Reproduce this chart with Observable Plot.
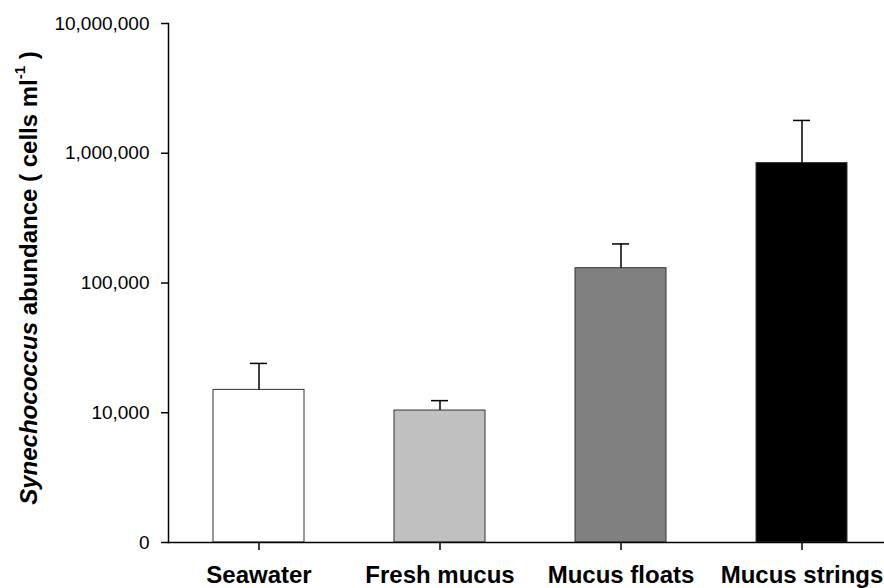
<!DOCTYPE html>
<html>
<head>
<meta charset="utf-8">
<script src="https://cdn.jsdelivr.net/npm/d3@7"></script>
<script src="https://cdn.jsdelivr.net/npm/@observablehq/plot@0.6"></script>
<style>
  html, body { margin: 0; padding: 0; background: #ffffff; }
  svg { display: block; font-family: "Liberation Sans", Arial, sans-serif; }
</style>
</head>
<body>
<div id="chart"></div>
<script>
const categories = ["Seawater", "Fresh mucus", "Mucus floats", "Mucus strings"];
const means = [15000, 10400, 130000, 840000];
const upperErrors = [24000, 12400, 200000, 1790000];
const baseline = 1000;
const yTicks = [1000, 10000, 100000, 1000000, 10000000];
const yTickLabels = ["0", "10,000", "100,000", "1,000,000", "10,000,000"];
const barFills = ["#ffffff", "#c0c0c0", "#808080", "#000000"];

const data = categories.map((c, i) => ({cat: c, base: baseline, mean: means[i], upper: upperErrors[i]}));

const W = 884, H = 588;
const svg = Plot.plot({
  width: W,
  height: H,
  marginLeft: 168,
  marginRight: 0,
  marginTop: 23,
  marginBottom: 46,
  style: {background: "#ffffff", fontFamily: "'Liberation Sans', Arial, sans-serif", color: "#000"},
  x: {domain: categories, range: [168, 892], paddingInner: 0.5, paddingOuter: 0.25, axis: null},
  y: {type: "log", domain: [yTicks[0], yTicks[yTicks.length - 1]], axis: null},
  color: {domain: categories, range: barFills},
  marks: [
    Plot.barY(data, {x: "cat", y1: "base", y2: "mean", fill: "cat", stroke: "#333333", strokeWidth: 1}),
    Plot.ruleX(data, {x: "cat", y1: "mean", y2: "upper", stroke: "#000", strokeWidth: 1.5}),
    Plot.tickY(data, {x: "cat", y: "upper", stroke: "#000", strokeWidth: 1.5, inset: 37}),
    Plot.frame({anchor: "left", stroke: "#000", strokeWidth: 1.5}),
    Plot.ruleY([baseline], {stroke: "#000", strokeWidth: 1.5}),
    Plot.axisY({
      ticks: yTicks,
      tickFormat: () => "",
      tickSize: 7,
      label: null,
      stroke: "#000",
      strokeWidth: 1.5
    }),
    Plot.text(yTicks, {
      y: d => d,
      text: d => yTickLabels[yTicks.indexOf(d)],
      frameAnchor: "left",
      textAnchor: "end",
      dx: -19,
      fontSize: 19,
      fill: "#000"
    }),
    Plot.axisX({
      tickSize: 8,
      tickPadding: 15,
      fontSize: 24,
      fontWeight: "bold",
      label: null,
      stroke: "#000",
      strokeWidth: 1.5,
      fill: "#000"
    })
  ]
});

// Y axis title with italic genus name and superscript
const sel = d3.select(svg);
const t = sel.append("text")
  .attr("transform", "translate(28,278) rotate(-90)")
  .attr("text-anchor", "middle")
  .attr("dominant-baseline", "central")
  .attr("font-family", "'Liberation Sans', Arial, sans-serif")
  .attr("font-size", 24)
  .attr("font-weight", "bold")
  .attr("fill", "#000");
t.append("tspan").attr("font-style", "italic").text("Synechococcus");
t.append("tspan").text(" abundance ( cells ml");
t.append("tspan").attr("font-size", 15).attr("dy", -9).text("-1");
t.append("tspan").attr("dy", 9).text(" )");

document.getElementById("chart").appendChild(svg);
</script>
</body>
</html>
